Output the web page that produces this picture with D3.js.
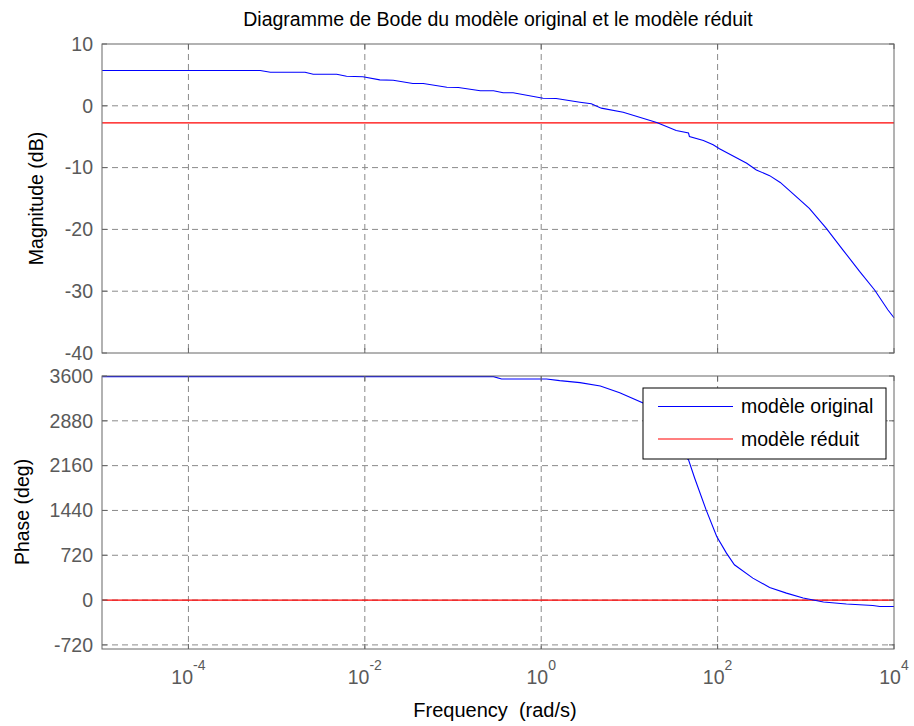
<!DOCTYPE html>
<html>
<head>
<meta charset="utf-8">
<script src="https://cdn.jsdelivr.net/npm/d3@7"></script>
<style>
  body { margin: 0; background: #fff; }
  svg { display: block; font-family: "Liberation Sans", Arial, sans-serif; }
</style>
</head>
<body>
<svg id="chart" width="914" height="726"></svg>
<script>
// frequency (rad/s) and values
const magFreq = [1.05e-5, 6.5e-4, 8.5e-4, 2.1e-3, 2.6e-3, 4.8e-3, 6.2e-3, 9.5e-3, 0.0148, 0.021,
  0.035, 0.046, 0.085, 0.115, 0.204, 0.288, 0.37, 0.48, 1.05, 1.48, 2.75, 3.7, 4.8, 8.5,
  20.4, 33.9, 46.8, 47.9, 69, 89, 105, 214, 275, 389, 513, 724, 1096, 1700, 2630, 4070,
  6030, 8510, 10000];
const magOriginal = [5.72, 5.72, 5.44, 5.44, 5.11, 5.11, 4.79, 4.69, 4.2, 4.14,
  3.6, 3.6, 3.0, 2.96, 2.43, 2.43, 2.1, 2.1, 1.23, 1.18, 0.58, 0.32, -0.38, -1.03,
  -2.7, -4.0, -4.4, -4.97, -5.6, -6.3, -6.96, -9.3, -10.4, -11.3, -12.4, -14.3, -16.6, -19.8, -23.3, -26.8,
  -29.8, -33.0, -34.3];

const phaseFreq = [1.05e-5, 0.288, 0.355, 1.15, 1.62, 2.75, 4.68, 7.76, 14.5, 21.9,
  32.4, 46.8, 55, 74.1, 97.7, 126, 155, 251, 389, 603,
  933, 1585, 2884, 5754, 6918, 10000];
const phaseOriginal = [3590, 3590, 3552, 3552, 3525, 3493, 3440, 3332, 3162, 2810,
  2490, 2252, 1958, 1449, 1021, 754, 567, 353, 202, 112,
  32, -32, -64, -87, -103, -103];

const reducedFreq = [1.05e-5, 10000];
const magReduced = [-2.75, -2.75];
const phaseReduced = [0, 0];

const magTicks = [10, 0, -10, -20, -30, -40];
const phaseTicks = [3600, 2880, 2160, 1440, 720, 0, -720];
const freqTicks = [1e-4, 1e-2, 1e0, 1e2, 1e4];
const legendLabels = ["modèle original", "modèle réduit"];
const colors = ["#0000ff", "#ff0000"];

const svg = d3.select("#chart");
const left = 102, right = 894;

const x = d3.scaleLog().domain([Math.pow(10, -4.98), 1e4]).range([left, right]);

function drawPanel(top, bottom, yDomain, yTicks, showXLabels, original, reduced, freq) {
  const y = d3.scaleLinear().domain(yDomain).range([bottom, top]);
  const g = svg.append("g");

  // grid
  g.selectAll(".hgrid").data(yTicks.filter(t => y(t) > top + 1 && y(t) < bottom - 1))
    .join("line")
    .attr("x1", left).attr("x2", right)
    .attr("y1", d => y(d)).attr("y2", d => y(d))
    .attr("stroke", "#8a8a8a").attr("stroke-dasharray", "6,4");
  g.selectAll(".vgrid").data(freqTicks.filter(t => x(t) < right - 1))
    .join("line")
    .attr("x1", d => x(d)).attr("x2", d => x(d))
    .attr("y1", top).attr("y2", bottom)
    .attr("stroke", "#8a8a8a").attr("stroke-dasharray", "6,4");

  // curves
  const line = d3.line().x(d => x(d[0])).y(d => y(d[1]));
  g.append("path").datum(d3.zip(reduced.freq, reduced.values))
    .attr("d", line).attr("fill", "none").attr("stroke", colors[1]).attr("stroke-width", 1.2);
  g.append("path").datum(d3.zip(freq, original))
    .attr("d", line).attr("fill", "none").attr("stroke", colors[0]).attr("stroke-width", 1.1);

  // box + inner ticks
  g.append("rect").attr("x", left).attr("y", top)
    .attr("width", right - left).attr("height", bottom - top)
    .attr("fill", "none").attr("stroke", "#666");
  yTicks.forEach(t => {
    g.append("line").attr("x1", left).attr("x2", left + 5).attr("y1", y(t)).attr("y2", y(t)).attr("stroke", "#666");
    g.append("line").attr("x1", right - 5).attr("x2", right).attr("y1", y(t)).attr("y2", y(t)).attr("stroke", "#666");
  });
  freqTicks.forEach(t => {
    g.append("line").attr("x1", x(t)).attr("x2", x(t)).attr("y1", bottom).attr("y2", bottom - 5).attr("stroke", "#666");
    g.append("line").attr("x1", x(t)).attr("x2", x(t)).attr("y1", top).attr("y2", top + 5).attr("stroke", "#666");
  });

  g.selectAll(".ylab").data(yTicks).join("text")
    .attr("x", 93).attr("y", d => y(d)).attr("dy", "0.35em")
    .attr("text-anchor", "end").attr("font-size", 19.5).attr("fill", "#5a5a5a")
    .text(d => d);

  if (showXLabels) {
    freqTicks.forEach(t => {
      const txt = g.append("text").attr("x", x(t)).attr("y", 684)
        .attr("text-anchor", "middle").attr("font-size", 19.5).attr("fill", "#5a5a5a");
      txt.append("tspan").text("10");
      txt.append("tspan").attr("dy", -14).attr("font-size", 14).text(Math.round(Math.log10(t)));
    });
  }
  return y;
}

drawPanel(44, 353, [-40, 10], magTicks, false, magOriginal, { freq: reducedFreq, values: magReduced }, magFreq);
drawPanel(376, 649, [-786, 3600], phaseTicks, true, phaseOriginal, { freq: reducedFreq, values: phaseReduced }, phaseFreq);

// titles
svg.append("text").attr("x", (left + right) / 2).attr("y", 26)
  .attr("text-anchor", "middle").attr("font-size", 19.5).attr("fill", "#000")
  .text("Diagramme de Bode du modèle original et le modèle réduit");
svg.append("text").attr("x", 495).attr("y", 717)
  .attr("text-anchor", "middle").attr("font-size", 20).attr("fill", "#000")
  .attr("xml:space", "preserve")
  .text("Frequency  (rad/s)");
svg.append("text").attr("transform", "translate(43,198.5) rotate(-90)")
  .attr("text-anchor", "middle").attr("font-size", 19.5).attr("fill", "#000")
  .text("Magnitude (dB)");
svg.append("text").attr("transform", "translate(29,512) rotate(-90)")
  .attr("text-anchor", "middle").attr("font-size", 19.5).attr("fill", "#000")
  .text("Phase (deg)");

// legend
const lg = svg.append("g").attr("transform", "translate(643,388)");
lg.append("rect").attr("width", 243).attr("height", 71)
  .attr("fill", "#fff").attr("stroke", "#000");
legendLabels.forEach((name, i) => {
  const ly = 18.5 + i * 32.5;
  lg.append("line").attr("x1", 15).attr("x2", 90).attr("y1", ly).attr("y2", ly)
    .attr("stroke", colors[i]).attr("stroke-width", 1.1);
  lg.append("text").attr("x", 98).attr("y", ly).attr("dy", "0.35em")
    .attr("font-size", 19.5).attr("fill", "#000").text(name);
});
</script>
</body>
</html>
